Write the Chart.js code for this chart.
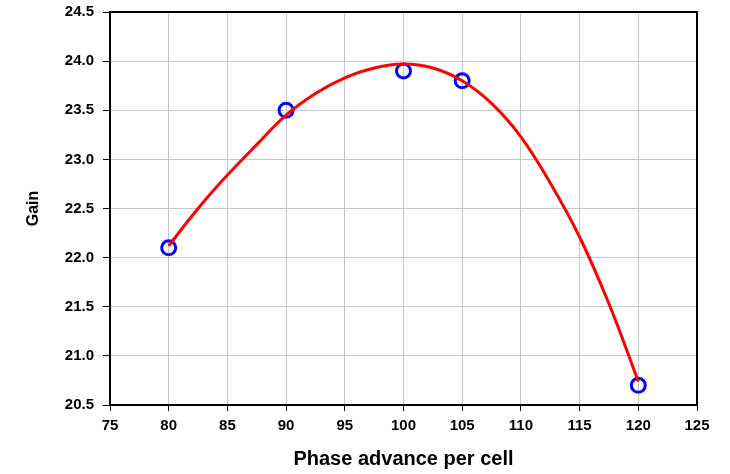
<!DOCTYPE html>
<html>
<head>
<meta charset="utf-8">
<script src="https://cdn.jsdelivr.net/npm/chart.js@4"></script>
<style>
html,body{margin:0;padding:0;background:#fff;}
#wrap{width:730px;height:474px;position:relative;}
</style>
</head>
<body>
<div id="wrap"><canvas id="c" width="730" height="474"></canvas></div>
<script>
// Measured points (blue open circles)
const pointX = [80, 90, 100, 105, 120];
const pointGain = [22.1, 23.5, 23.9, 23.8, 20.7];
// Trend curve (red line)
const curveX = [80, 82.5, 85, 87.5, 90, 92.5, 95, 97.5, 100, 102.5, 105, 107.5, 110, 112.5, 115, 117.5, 120];
const curveGain = [22.12, 22.50, 22.84, 23.15, 23.45, 23.67, 23.83, 23.93, 23.97, 23.93, 23.80, 23.57, 23.23, 22.76, 22.21, 21.53, 20.74];
// Axis settings
const xMin = 75, xMax = 125, xStep = 5;
const yMin = 20.5, yMax = 24.5, yStep = 0.5;
const xTitle = 'Phase advance per cell';
const yTitle = 'Gain';

const FONT = "'Liberation Sans', Arial, sans-serif";

const frame = {
  id: 'frame',
  beforeDatasetsDraw(chart) {
    const a = chart.chartArea, ctx = chart.ctx;
    ctx.save();
    ctx.strokeStyle = '#000';
    ctx.lineWidth = 2;
    ctx.strokeRect(a.left, a.top, a.right - a.left, a.bottom - a.top);
    ctx.restore();
  }
};

new Chart(document.getElementById('c'), {
  type: 'scatter',
  data: {
    datasets: [
      {
        data: curveX.map((x, i) => ({x, y: curveGain[i]})),
        showLine: true,
        borderColor: '#ff0000',
        borderWidth: 3,
        pointRadius: 0,
        tension: 0.4,
        fill: false,
        order: 0
      },
      {
        data: pointX.map((x, i) => ({x, y: pointGain[i]})),
        showLine: false,
        pointRadius: 7,
        pointBorderWidth: 3,
        pointBorderColor: '#0000ff',
        pointBackgroundColor: 'rgba(0,0,0,0)',
        order: 1
      }
    ]
  },
  options: {
    responsive: false,
    animation: false,
    layout: {padding: {left: 20, top: 12, right: 33, bottom: 0}},
    plugins: {legend: {display: false}, tooltip: {enabled: false}},
    scales: {
      x: {
        type: 'linear',
        min: xMin, max: xMax,
        ticks: {stepSize: xStep, color: '#000', padding: 6, font: {family: FONT, size: 15, weight: 'bold'}},
        grid: {color: '#c8c8c8', lineWidth: 1, tickLength: 6, tickColor: '#000'},
        border: {display: true, color: '#000', width: 2},
        title: {display: true, text: xTitle, color: '#000', font: {family: FONT, size: 20, weight: 'bold'}, padding: {top: 0, bottom: 3}},
        afterFit(s) { s.height = 69; s.paddingLeft = 0; s.paddingRight = 0; }
      },
      y: {
        type: 'linear',
        min: yMin, max: yMax,
        ticks: {stepSize: yStep, color: '#000', padding: 9, font: {family: FONT, size: 15, weight: 'bold'}, callback: v => Number(v).toFixed(1)},
        grid: {color: '#c8c8c8', lineWidth: 1, tickLength: 7, tickColor: '#000'},
        border: {display: true, color: '#000', width: 2},
        title: {display: true, text: yTitle, color: '#000', font: {family: FONT, size: 16, weight: 'bold'}, padding: {top: 4, bottom: 0}},
        afterFit(s) { s.width = 90; s.paddingTop = 0; s.paddingBottom = 0; }
      }
    }
  },
  plugins: [frame]
});
</script>
</body>
</html>
